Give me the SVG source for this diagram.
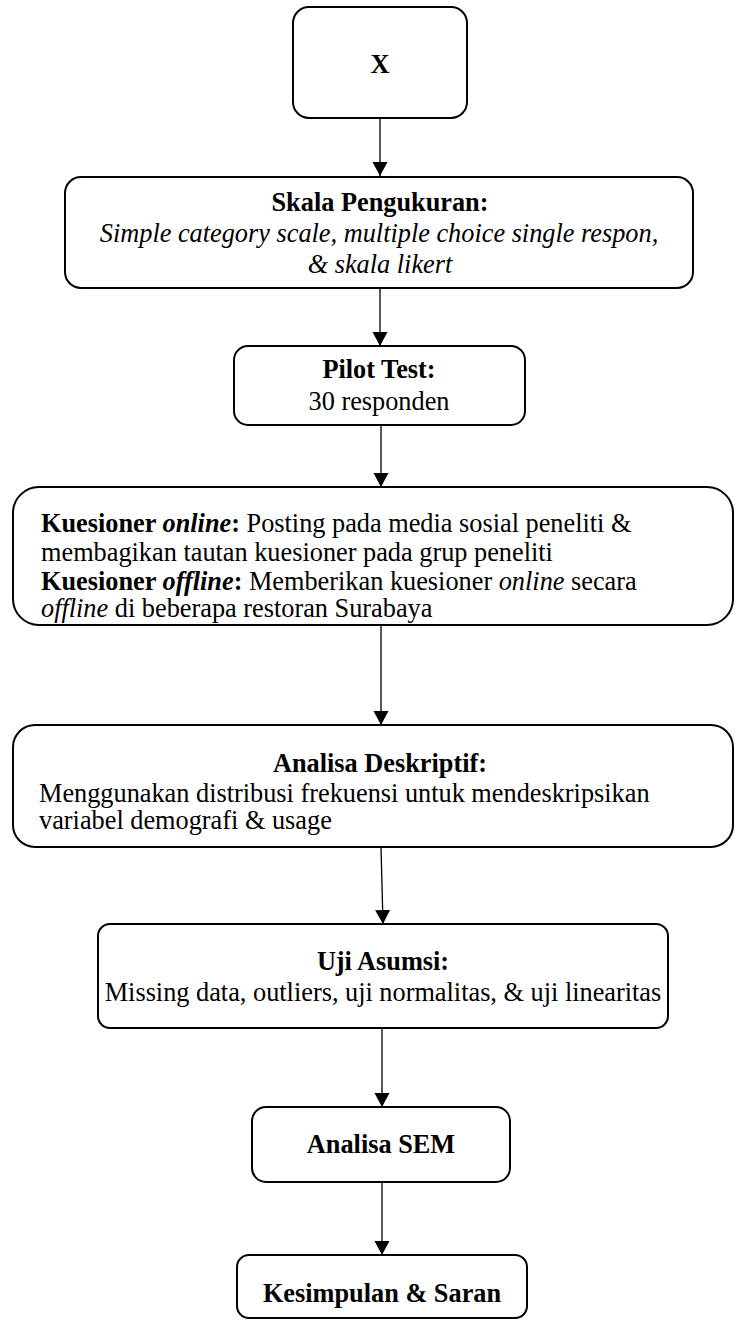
<svg xmlns="http://www.w3.org/2000/svg" width="735" height="1324" viewBox="0 0 735 1324">
<style>
text{font-family:"Liberation Serif","Times New Roman",serif;font-size:26.3px;fill:#000}
.b{font-weight:bold}
.i{font-style:italic}
.c{text-anchor:middle}
.box{fill:#fff;stroke:#000;stroke-width:2}
.con{stroke:#000;stroke-width:1.3;fill:none;marker-end:url(#ah)}
</style>
<defs>
<marker id="ah" markerUnits="userSpaceOnUse" markerWidth="16" markerHeight="16" refX="14" refY="7.5" orient="auto">
<path d="M0,0 L14,7.5 L0,15 z" fill="#000"/>
</marker>
</defs>
<rect width="735" height="1324" fill="#fff"/>
<g id="connectors">
<line class="con" x1="380" y1="118" x2="380" y2="176"/>
<line class="con" x1="380" y1="288" x2="380" y2="346"/>
<line class="con" x1="381" y1="425" x2="381" y2="487"/>
<line class="con" x1="381" y1="625" x2="381" y2="725"/>
<line class="con" x1="381" y1="847" x2="383" y2="924"/>
<line class="con" x1="382" y1="1028" x2="382" y2="1107"/>
<line class="con" x1="382" y1="1182" x2="382" y2="1255"/>
</g>
<g id="n-x">
<rect class="box" x="293" y="7" width="174" height="111" rx="16"/>
<text class="b c" x="380" y="73">X</text>
</g>
<g id="n-skala">
<rect class="box" x="65" y="177" width="628" height="111" rx="16"/>
<text class="b c" x="380" y="211">Skala Pengukuran:</text>
<text class="i c" x="379" y="242">Simple category scale, multiple choice single respon,</text>
<text class="i c" x="380" y="273">&amp; skala likert</text>
</g>
<g id="n-pilot">
<rect class="box" x="234" y="346" width="291" height="79" rx="14"/>
<text class="b c" x="379" y="378">Pilot Test:</text>
<text class="c" x="379" y="410">30 responden</text>
</g>
<g id="n-kuesioner">
<rect class="box" x="13" y="487" width="720" height="138" rx="26"/>
<text x="41" y="532"><tspan class="b">Kuesioner </tspan><tspan class="b i">online</tspan><tspan class="b">:</tspan> Posting pada media sosial peneliti &amp;</text>
<text x="41" y="561">membagikan tautan kuesioner pada grup peneliti</text>
<text x="41" y="590"><tspan class="b">Kuesioner </tspan><tspan class="b i">offline</tspan><tspan class="b">:</tspan> Memberikan kuesioner <tspan class="i">online</tspan> secara</text>
<text x="41" y="617"><tspan class="i">offline</tspan> di beberapa restoran Surabaya</text>
</g>
<g id="n-deskriptif">
<rect class="box" x="13" y="725" width="720" height="122" rx="22"/>
<text class="b c" x="380" y="772">Analisa Deskriptif:</text>
<text x="39" y="802">Menggunakan distribusi frekuensi untuk mendeskripsikan</text>
<text x="39" y="829">variabel demografi &amp; usage</text>
</g>
<g id="n-uji">
<rect class="box" x="98" y="924" width="570" height="104" rx="12"/>
<text class="b c" x="383" y="970">Uji Asumsi:</text>
<text class="c" x="383" y="1001">Missing data, outliers, uji normalitas, &amp; uji linearitas</text>
</g>
<g id="n-sem">
<rect class="box" x="252" y="1107" width="258" height="75" rx="14"/>
<text class="b c" x="381" y="1153">Analisa SEM</text>
</g>
<g id="n-kesimpulan">
<rect class="box" x="237" y="1255" width="290" height="63" rx="12"/>
<text class="b c" x="382" y="1302">Kesimpulan &amp; Saran</text>
</g>
</svg>
